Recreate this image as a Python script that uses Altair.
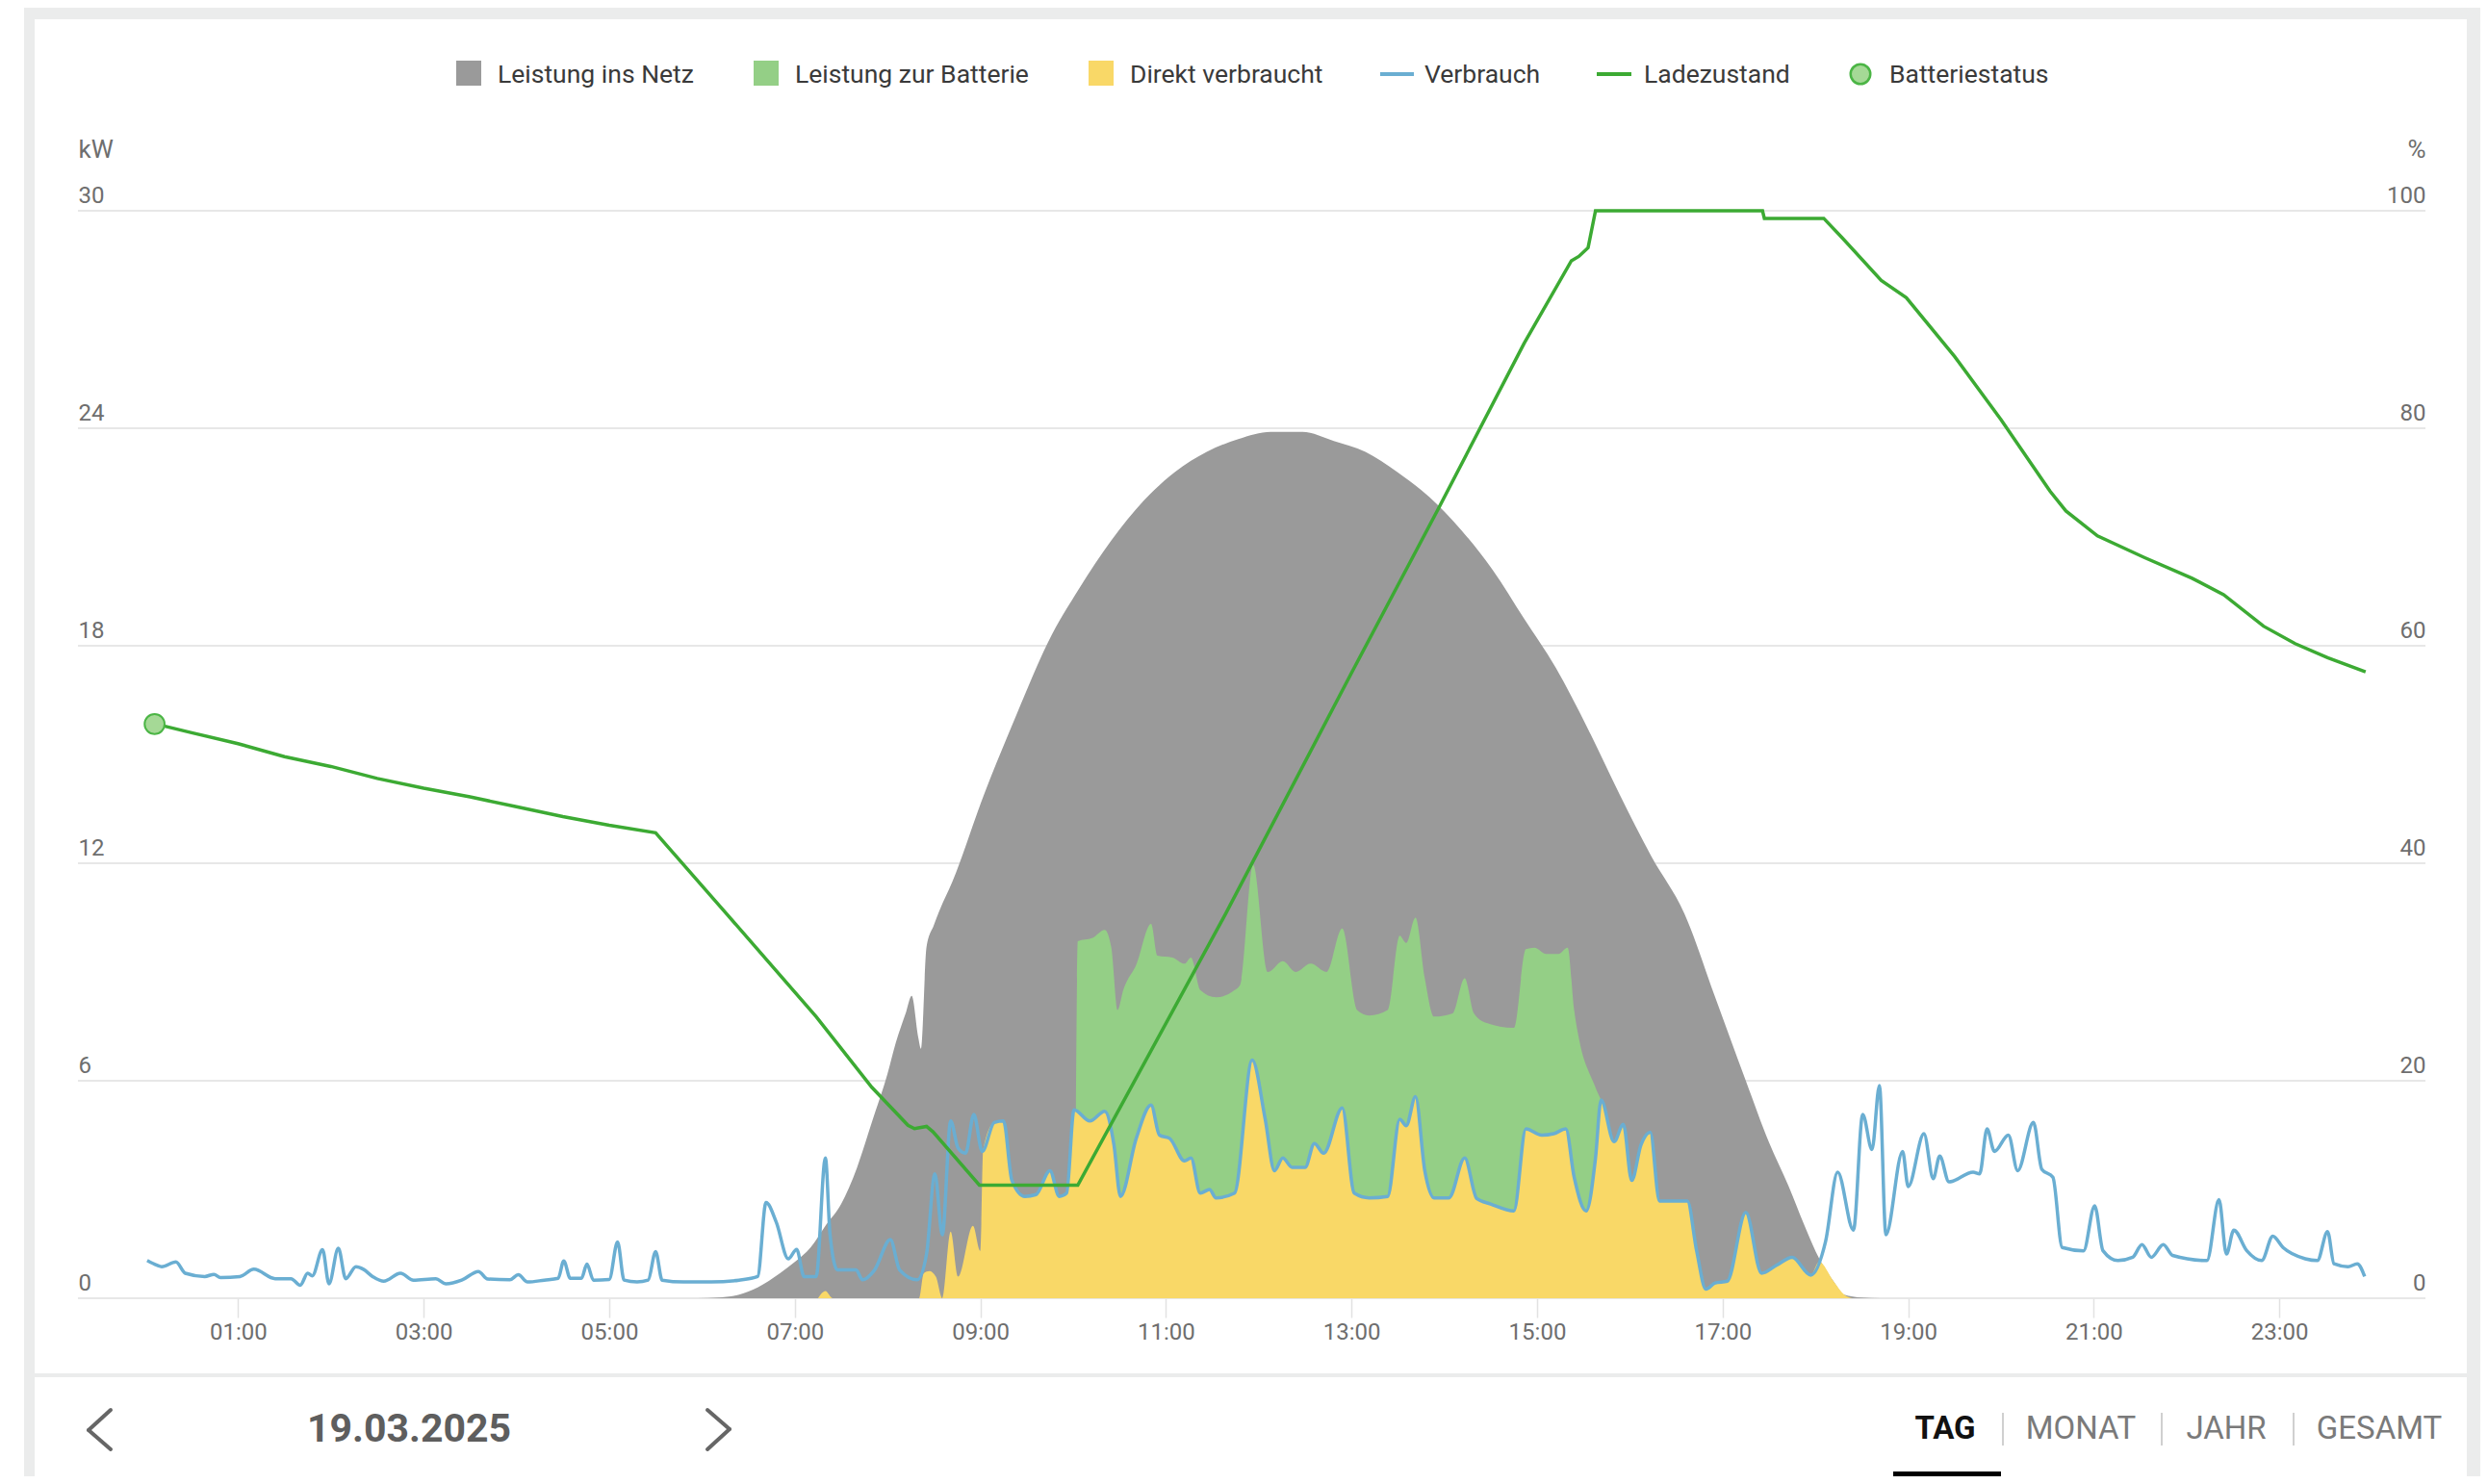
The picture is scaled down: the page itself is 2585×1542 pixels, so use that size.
import altair as alt
import pandas as pd

# ---------------- data ----------------
hour_ticks = [1, 3, 5, 7, 9, 11, 13, 15, 17, 19, 21, 23]
kw_ticks = [0, 6, 12, 18, 24, 30]
pct_ticks = [0, 20, 40, 60, 80, 100]
legend_items = ["Leistung ins Netz", "Leistung zur Batterie", "Direkt verbraucht",
                "Verbrauch", "Ladezustand", "Batteriestatus"]
date_text = "19.03.2025"
period_tabs = ["TAG", "MONAT", "JAHR", "GESAMT"]

# total PV production (top of the grey area), (hour, kW)
erzeugung = [
    (5.95, 0.0), (6.17, 0.02), (6.4, 0.1), (6.6, 0.3), (6.84, 0.69), (7.0, 1.0),
    (7.17, 1.4), (7.33, 2.0), (7.5, 2.6), (7.67, 3.6), (7.83, 4.85), (8.0, 6.2),
    (8.09, 7.06), (8.2, 7.9), (8.26, 8.34), (8.33, 7.2), (8.36, 6.88), (8.42, 9.7),
    (8.5, 10.3), (8.56, 10.7), (8.7, 11.5), (9.04, 13.9), (9.39, 16.1), (9.73, 18.1),
    (10.07, 19.6), (10.41, 20.9), (10.76, 22.0), (11.10, 22.8), (11.44, 23.35),
    (11.78, 23.7), (12.13, 23.9), (12.47, 23.9), (12.81, 23.65), (13.15, 23.35),
    (13.49, 22.8), (13.84, 22.1), (14.18, 21.2), (14.52, 20.1), (14.86, 18.75),
    (15.20, 17.4), (15.55, 15.7), (15.89, 13.9), (16.23, 12.2), (16.59, 10.6),
    (16.92, 8.3), (17.25, 6.0), (17.5, 4.3), (17.71, 3.1), (17.9, 1.9), (18.04, 1.1),
    (18.2, 0.45), (18.31, 0.1), (18.5, 0.02), (18.7, 0.0),
]

# household consumption (blue line), (hour, kW)
verbrauch = [
    (0.02, 1.04), (0.125, 0.91), (0.176, 0.87), (0.33, 1.0), (0.43, 0.69), (0.64, 0.6),
    (0.74, 0.66), (0.81, 0.57), (1.02, 0.6), (1.17, 0.8), (1.40, 0.54), (1.57, 0.54),
    (1.67, 0.36), (1.75, 0.69), (1.80, 0.62), (1.91, 1.34), (1.98, 0.40), (2.08, 1.38),
    (2.16, 0.54), (2.27, 0.87), (2.35, 0.80), (2.45, 0.60), (2.57, 0.47), (2.75, 0.69),
    (2.89, 0.50), (3.13, 0.54), (3.24, 0.40), (3.41, 0.50), (3.59, 0.74), (3.69, 0.53),
    (3.93, 0.51), (4.02, 0.65), (4.12, 0.45), (4.3, 0.5), (4.45, 0.55), (4.51, 1.03),
    (4.58, 0.55), (4.7, 0.55), (4.76, 0.94), (4.83, 0.5), (5.0, 0.52), (5.09, 1.55),
    (5.16, 0.5), (5.3, 0.45), (5.42, 0.5), (5.5, 1.29), (5.57, 0.5), (5.8, 0.45),
    (6.1, 0.45), (6.4, 0.5), (6.6, 0.6), (6.69, 2.64), (6.80, 2.1), (6.93, 1.09),
    (7.02, 1.35), (7.10, 0.6), (7.23, 0.6), (7.33, 3.87), (7.38, 1.75), (7.46, 0.78),
    (7.66, 0.78), (7.73, 0.51), (7.86, 0.78), (8.03, 1.62), (8.13, 0.78), (8.32, 0.51),
    (8.42, 1.22), (8.51, 3.43), (8.59, 1.75), (8.68, 4.89), (8.76, 4.14), (8.84, 4.0),
    (8.93, 5.07), (9.02, 4.05), (9.15, 4.85), (9.25, 4.89), (9.34, 3.25), (9.48, 2.81),
    (9.6, 2.86), (9.75, 3.52), (9.85, 2.81), (9.93, 2.9), (10.01, 5.2), (10.18, 4.89),
    (10.34, 5.16), (10.44, 4.23), (10.51, 2.81), (10.68, 4.41), (10.84, 5.33),
    (10.93, 4.5), (11.04, 4.41), (11.2, 3.79), (11.27, 3.87), (11.37, 2.9), (11.47, 3.0),
    (11.54, 2.77), (11.74, 2.9), (11.93, 6.57), (12.07, 4.94), (12.17, 3.52),
    (12.26, 3.87), (12.36, 3.61), (12.5, 3.61), (12.6, 4.27), (12.7, 4.0), (12.9, 5.25),
    (13.03, 2.9), (13.19, 2.77), (13.39, 2.81), (13.52, 4.94), (13.59, 4.76),
    (13.69, 5.56), (13.79, 3.52), (13.89, 2.77), (14.05, 2.77), (14.22, 3.87),
    (14.35, 2.75), (14.5, 2.6), (14.75, 2.41), (14.88, 4.67), (15.05, 4.5),
    (15.18, 4.54), (15.31, 4.67), (15.4, 3.34), (15.53, 2.41), (15.63, 3.87),
    (15.69, 5.47), (15.83, 4.32), (15.93, 4.8), (16.02, 3.25), (16.12, 4.23),
    (16.22, 4.58), (16.32, 2.68), (16.62, 2.68), (16.72, 1.31), (16.82, 0.25),
    (16.92, 0.42), (17.05, 0.47), (17.25, 2.37), (17.42, 0.69), (17.58, 0.91),
    (17.75, 1.13), (17.95, 0.64), (18.11, 1.57), (18.24, 3.48), (18.41, 1.88),
    (18.51, 5.07), (18.61, 4.1), (18.69, 5.87), (18.76, 1.75), (18.94, 4.05),
    (19.0, 3.08), (19.17, 4.54), (19.27, 3.3), (19.34, 3.92), (19.44, 3.21),
    (19.7, 3.48), (19.77, 3.43), (19.85, 4.67), (19.93, 4.05), (20.08, 4.5),
    (20.18, 3.52), (20.35, 4.85), (20.44, 3.56), (20.56, 3.34), (20.66, 1.4),
    (20.89, 1.31), (21.01, 2.55), (21.1, 1.31), (21.26, 1.04), (21.42, 1.13),
    (21.52, 1.48), (21.62, 1.13), (21.75, 1.48), (21.85, 1.18), (22.22, 1.04),
    (22.35, 2.72), (22.43, 1.22), (22.51, 1.88), (22.65, 1.31), (22.81, 1.04),
    (22.93, 1.71), (23.04, 1.4), (23.28, 1.09), (23.41, 1.04), (23.52, 1.84),
    (23.59, 0.95), (23.74, 0.87), (23.84, 0.95), (23.92, 0.6),
]

# directly consumed PV (yellow) outside the span where it equals the consumption line
direkt_frueh = [
    (7.25, 0.0), (7.33, 0.2), (7.41, 0.0), (8.34, 0.0), (8.39, 0.69), (8.45, 0.75),
    (8.52, 0.6), (8.59, 0.0), (8.68, 1.84), (8.76, 0.6), (8.92, 2.0), (9.0, 1.3),
    (9.03, 4.1),
]
direkt_spaet = [(18.04, 1.0), (18.2, 0.45), (18.31, 0.1), (18.4, 0.0)]

# direct + battery charging (top of the green area), (hour, kW)
direkt_plus_batterie = [
    (10.03, 5.2), (10.05, 9.85), (10.21, 9.94), (10.34, 10.16), (10.41, 9.7),
    (10.48, 7.95), (10.54, 8.5), (10.68, 9.2), (10.84, 10.33), (10.91, 9.45),
    (11.07, 9.4), (11.2, 9.23), (11.27, 9.4), (11.37, 8.5), (11.54, 8.3), (11.74, 8.5),
    (11.8, 8.65), (11.94, 11.96), (12.1, 9.0), (12.26, 9.3), (12.4, 9.0), (12.56, 9.23),
    (12.73, 9.0), (12.9, 10.2), (13.06, 7.95), (13.19, 7.8), (13.39, 7.95), (13.52, 10.0),
    (13.59, 9.8), (13.69, 10.5), (13.79, 8.83), (13.89, 7.77), (14.09, 7.86),
    (14.22, 8.83), (14.32, 7.86), (14.45, 7.6), (14.75, 7.46), (14.88, 9.63),
    (14.97, 9.67), (15.1, 9.5), (15.23, 9.5), (15.33, 9.67), (15.4, 7.95), (15.46, 7.06),
    (15.6, 6.0), (15.69, 5.47),
]

# state of charge (%), (hour, %)
ladezustand = [
    (0.02, 53.0), (0.5, 52.0), (1.0, 51.0), (1.5, 49.8), (2.0, 48.9), (2.5, 47.8),
    (3.0, 46.9), (3.5, 46.1), (4.0, 45.2), (4.5, 44.3), (5.0, 43.5), (5.5, 42.8),
    (6.27, 35.3), (7.23, 25.9), (7.83, 19.4), (8.22, 15.9), (8.29, 15.6), (8.42, 15.8),
    (8.49, 15.3), (8.99, 10.4), (10.05, 10.4), (11.64, 35.3), (13.0, 57.5),
    (13.93, 72.5), (14.86, 87.8), (15.37, 95.4), (15.45, 95.8), (15.55, 96.6),
    (15.63, 100.0), (17.43, 100.0), (17.45, 99.3), (18.09, 99.3), (18.29, 97.5),
    (18.71, 93.6), (18.98, 92.0), (19.5, 86.6), (20.0, 80.8), (20.53, 74.2),
    (20.7, 72.4), (21.04, 70.1), (21.55, 68.1), (22.06, 66.2), (22.4, 64.7),
    (22.83, 61.8), (23.17, 60.2), (23.52, 58.9), (23.93, 57.6),
]
batteriestatus = [(0.1, 52.8)]

# ---------------- frames ----------------
def kw_frame(pairs):
    return pd.DataFrame({"t": [p[0] for p in pairs], "kw": [p[1] for p in pairs]})

def pct_frame(pairs):
    return pd.DataFrame({"t": [p[0] for p in pairs], "pct": [p[1] for p in pairs]})

direkt = direkt_frueh + [p for p in verbrauch if 9.1 <= p[0] <= 17.96] + direkt_spaet

df_pv = kw_frame(erzeugung)
df_verb = kw_frame(verbrauch)
df_dir = kw_frame(direkt)
df_batt = kw_frame(direkt_plus_batterie)
df_soc = pct_frame(ladezustand)
df_stat = pct_frame(batteriestatus)
df_grid = pd.DataFrame({"kw": kw_ticks})

# ---------------- style ----------------
W, H = 2439, 1130
FONT = "Roboto"
C_NETZ = "#9a9a9a"
C_BATT = "#94cf86"
C_DIREKT = "#f9d867"
C_VERB = "#6aaed2"
C_SOC = "#3caa33"
C_DOT_FILL = "#a5d996"
C_DOT_STROKE = "#4bb545"
C_FRAME = "#ebecec"
C_AXIS_TXT = "#6e6e6e"
C_LEG_TXT = "#3a3a3a"
LEG_FS = 26.5

xs = alt.Scale(domain=[-0.726, 24.575], nice=False, zero=False)
x_axis = alt.Axis(values=hour_ticks,
                  labelExpr="(datum.value < 10 ? '0' : '') + datum.value + ':00'",
                  title=None, grid=False, domain=False, ticks=True, tickSize=20,
                  tickColor="#e2e2e2", tickWidth=1.5, labelPadding=3,
                  labelFont=FONT, labelFontSize=24, labelColor=C_AXIS_TXT,
                  labelFlush=False, labelOverlap=False, zindex=1)

yk = alt.Scale(domain=[0, 30], nice=False, zero=True)
yk_axis = alt.Axis(values=kw_ticks, orient="left", grid=False, domain=False, ticks=False,
                   tickSize=0, labelAlign="left", labelBaseline="alphabetic",
                   labelPadding=0, labelOffset=-9, labelFont=FONT, labelFontSize=24,
                   labelColor=C_AXIS_TXT, labelFlush=False,
                   title="kW", titleAngle=0, titleX=0, titleY=-56, titleAlign="left",
                   titleBaseline="alphabetic", titleFont=FONT, titleFontSize=26,
                   titleFontWeight="normal", titleColor=C_AXIS_TXT, zindex=1)

yp = alt.Scale(domain=[0, 100], nice=False, zero=True)
yp_axis = alt.Axis(values=pct_ticks, orient="right", grid=False, domain=False, ticks=False,
                   tickSize=0, labelAlign="right", labelBaseline="alphabetic",
                   labelPadding=0, labelOffset=-9, labelFont=FONT, labelFontSize=24,
                   labelColor=C_AXIS_TXT, labelFlush=False,
                   title="%", titleAngle=0, titleX=0, titleY=-56, titleAlign="right",
                   titleBaseline="alphabetic", titleFont=FONT, titleFontSize=26,
                   titleFontWeight="normal", titleColor=C_AXIS_TXT, zindex=1)

def X():
    return alt.X("t:Q", scale=xs, axis=x_axis)

def YK():
    return alt.Y("kw:Q", scale=yk, axis=yk_axis)

def YP():
    return alt.Y("pct:Q", scale=yp, axis=yp_axis)

# ---------------- decoration helpers (pixel positions, relative to plot origin) ----------------
def one():
    return pd.DataFrame({"d": [0]})

def rect(x, x2, y, y2, color):
    return alt.Chart(one()).mark_rect(color=color).encode(
        x=alt.value(x), x2=alt.value(x2), y=alt.value(y), y2=alt.value(y2))

def seg(x, y, x2, y2, color, width, cap="butt"):
    return alt.Chart(one()).mark_rule(color=color, strokeWidth=width, strokeCap=cap).encode(
        x=alt.value(x), y=alt.value(y), x2=alt.value(x2), y2=alt.value(y2))

def txt(text, x, y, size, color, weight="normal", align="left"):
    return alt.Chart(one()).mark_text(text=text, font=FONT, fontSize=size, color=color,
                                      fontWeight=weight, align=align,
                                      baseline="alphabetic").encode(
        x=alt.value(x), y=alt.value(y))

# background frame and cards
bg = [
    rect(-56, 2500, -230, 1330, C_FRAME),
    rect(-45, 2482, -199, 1208, "white"),
    rect(-45, 2482, 1212, 1319, "white"),
]

# ---------------- data layers ----------------
grid = alt.Chart(df_grid).mark_rule(color="#e7e7e7", strokeWidth=2).encode(
    y=YK(), x=alt.value(0), x2=alt.value(W))
area_netz = alt.Chart(df_pv).mark_area(color=C_NETZ, opacity=1, interpolate="monotone").encode(
    x=X(), y=YK())
area_batt = alt.Chart(df_batt).mark_area(color=C_BATT, opacity=1, interpolate="monotone").encode(
    x=X(), y=YK())
area_dir = alt.Chart(df_dir).mark_area(color=C_DIREKT, opacity=1, interpolate="monotone").encode(
    x=X(), y=YK())
line_verb = alt.Chart(df_verb).mark_line(color=C_VERB, strokeWidth=3.5,
                                         interpolate="monotone").encode(x=X(), y=YK())
kw_group = alt.layer(grid, area_netz, area_batt, area_dir, line_verb)

line_soc = alt.Chart(df_soc).mark_line(color=C_SOC, strokeWidth=3.5).encode(x=X(), y=YP())
dot_soc = alt.Chart(df_stat).mark_circle(size=430, fill=C_DOT_FILL, stroke=C_DOT_STROKE,
                                         strokeWidth=2, opacity=1).encode(x=X(), y=YP())
soc_group = alt.layer(line_soc, dot_soc)

# ---------------- legend ----------------
LY = -143
leg = [
    alt.Chart(one()).mark_square(size=676, color=C_NETZ, opacity=1).encode(
        x=alt.value(406), y=alt.value(LY)),
    txt(legend_items[0], 436, -133, LEG_FS, C_LEG_TXT),
    alt.Chart(one()).mark_square(size=676, color=C_BATT, opacity=1).encode(
        x=alt.value(715), y=alt.value(LY)),
    txt(legend_items[1], 745, -133, LEG_FS, C_LEG_TXT),
    alt.Chart(one()).mark_square(size=676, color=C_DIREKT, opacity=1).encode(
        x=alt.value(1063), y=alt.value(LY)),
    txt(legend_items[2], 1093, -133, LEG_FS, C_LEG_TXT),
    seg(1353, LY + 1, 1388, LY + 1, C_VERB, 4),
    txt(legend_items[3], 1399, -133, LEG_FS, C_LEG_TXT),
    seg(1578, LY + 1, 1614, LY + 1, C_SOC, 4),
    txt(legend_items[4], 1627, -133, LEG_FS, C_LEG_TXT),
    alt.Chart(one()).mark_circle(size=420, fill=C_DOT_FILL, stroke=C_DOT_STROKE,
                                 strokeWidth=2.5, opacity=1).encode(
        x=alt.value(1852), y=alt.value(LY + 1)),
    txt(legend_items[5], 1882, -133, LEG_FS, C_LEG_TXT),
]

# ---------------- bottom navigation bar ----------------
NAV = "#666666"
nav = [
    seg(34, 1246, 11, 1267, NAV, 4, "round"),
    seg(11, 1267, 34, 1287, NAV, 4, "round"),
    seg(654, 1246, 677, 1266, NAV, 4, "round"),
    seg(677, 1266, 654, 1287, NAV, 4, "round"),
    txt(date_text, 344, 1279, 41, "#5e5e5e", weight="bold", align="center"),
    txt(period_tabs[0], 1940, 1276, 33, "#111111", weight="bold", align="center"),
    seg(2000, 1249, 2000, 1283, "#d0d0d0", 2),
    txt(period_tabs[1], 2081, 1276, 33, "#7a7a7a", align="center"),
    seg(2165, 1249, 2165, 1283, "#d0d0d0", 2),
    txt(period_tabs[2], 2232, 1276, 33, "#7a7a7a", align="center"),
    seg(2302, 1249, 2302, 1283, "#d0d0d0", 2),
    txt(period_tabs[3], 2391, 1276, 33, "#7a7a7a", align="center"),
    rect(1886, 1998, 1310, 1319, "#000000"),
]

chart = alt.layer(*bg, kw_group, soc_group, *leg, *nav).resolve_scale(
    y="independent"
).properties(
    width=W, height=H,
    autosize=alt.AutoSizeParams(type="none"),
    padding={"left": 73, "top": 211, "right": 57, "bottom": 185},
    background="white",
).configure_view(stroke=None)

chart.save("out.html", embed_options={"renderer": "svg", "actions": False})
